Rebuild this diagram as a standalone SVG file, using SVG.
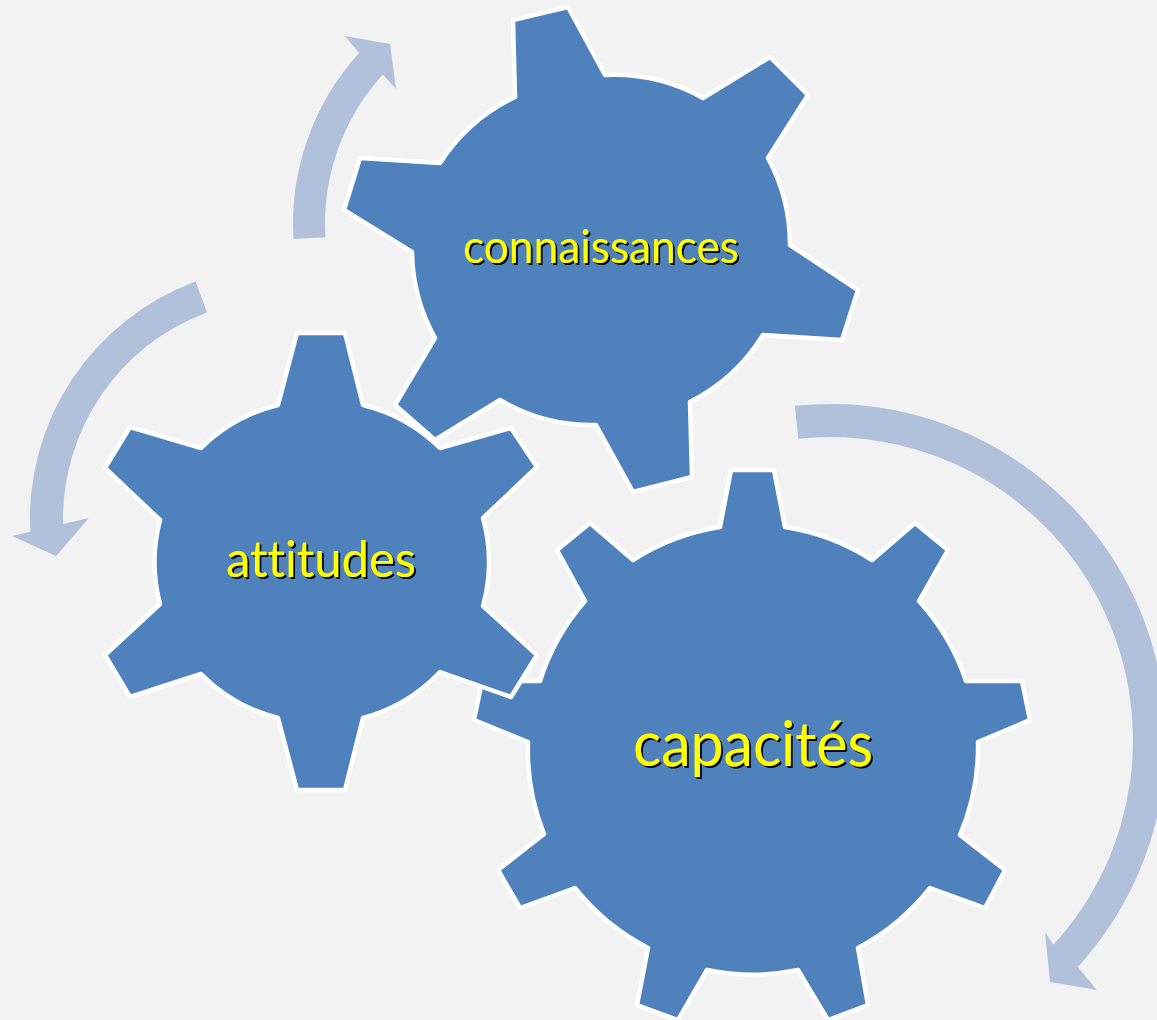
<svg xmlns="http://www.w3.org/2000/svg" width="1157" height="1020" viewBox="0 0 1157 1020">
  <defs>
    <filter id="shadow" x="-10%" y="-20%" width="130%" height="150%">
      <feDropShadow dx="2" dy="2" stdDeviation="0.7" flood-color="#000000" flood-opacity="0.9"/>
    </filter>
    <style>
      .gear { fill: #4F81BD; stroke: #FFFFFF; stroke-width: 4.5; stroke-linejoin: round; }
      .arrow { fill: #B2C1DB; stroke: none; }
      .label { font-family: Lato, "Liberation Sans", sans-serif; fill: #FFFF00; text-anchor: middle; filter: url(#shadow); font-variant-ligatures: none; font-feature-settings: "liga" 0, "clig" 0; }
    </style>
  </defs>
  <rect x="0" y="0" width="1157" height="1020" fill="#F2F2F2"/>

  <g id="connectors">
    <path id="arrow-top" class="arrow" d="M 293.4,239.1 A 254 254 0 0 1 359.1,53.1 L 345,36 L 390,44 L 396,89 L 382.8,74.6 A 222 222 0 0 0 325.4,237.2 Z"/>
    <path id="arrow-left" class="arrow" d="M 195.6,281.6 A 253 253 0 0 0 30.3,531.7 L 12,536 L 56,556 L 89,518 L 63.1,524.1 A 220 220 0 0 1 207,312.5 Z"/>
    <path id="arrow-right" class="arrow" d="M 794.9,405.8 A 336 336 0 0 1 1077.7,967 L 1097,990 L 1050,982 L 1045,932 L 1053.4,944.7 A 303 303 0 0 0 798.3,438.7 Z"/>
  </g>

  <g id="capacites">
    <path class="gear" d="M 720,527 L 731,470 L 774,470 L 785,527 A 224 224 0 0 1 872,560 L 915,523 L 948,550 L 919,601 A 224 224 0 0 1 966,681 L 1022,681 L 1030,720 L 978,742 A 224 224 0 0 1 960,835 L 1005,870 L 985,908 L 930,888 A 224 224 0 0 1 858,948 L 868,1005 L 828,1020 L 798,970 A 224 224 0 0 1 707,970 L 678,1020 L 637,1005 L 648,948 A 224 224 0 0 1 575,888 L 520,908 L 498,870 L 544,834 A 224 224 0 0 1 528,742 L 474,720 L 482,681 L 540,681 A 224 224 0 0 1 585,601 L 557,550 L 590,523 L 633,560 A 224 224 0 0 1 720,527 Z"/>
    <text class="label" x="753" y="766" font-size="61" textLength="240" lengthAdjust="spacingAndGlyphs">capacités</text>
  </g>

  <g id="attitudes">
    <path class="gear" d="M 278,405 L 297,333 L 345,333 L 363,405 A 165 165 0 0 1 440,448 L 511,428 L 537,467 L 483,518 A 165 165 0 0 1 483,606 L 537,655 L 511,697 L 440,672 A 165 165 0 0 1 363,718 L 345,790 L 297,790 L 278,718 A 165 165 0 0 1 201,674 L 130,697 L 105,655 L 160,604 A 165 165 0 0 1 160,520 L 105,468 L 130,427 L 201,448 A 165 165 0 0 1 278,405 Z"/>
    <text class="label" x="321" y="577" font-size="50" textLength="190" lengthAdjust="spacingAndGlyphs">attitudes</text>
  </g>

  <g id="connaissances">
    <path class="gear" d="M 515,97 L 513,20 L 568,7 L 605,75 A 182 182 0 0 1 703,98 L 770,57 L 808,95 L 768,158 A 182 182 0 0 1 790,245 L 858,290 L 842,340 L 763,335 A 182 182 0 0 1 690,402 L 692,477 L 633,492 L 596,425 A 182 182 0 0 1 500,400 L 435,440 L 395,405 L 435,338 A 182 182 0 0 1 412,252 L 344,210 L 360,158 L 440,163 A 182 182 0 0 1 515,97 Z"/>
    <text class="label" x="601" y="263" font-size="46" textLength="276" lengthAdjust="spacingAndGlyphs">connaissances</text>
  </g>
</svg>
